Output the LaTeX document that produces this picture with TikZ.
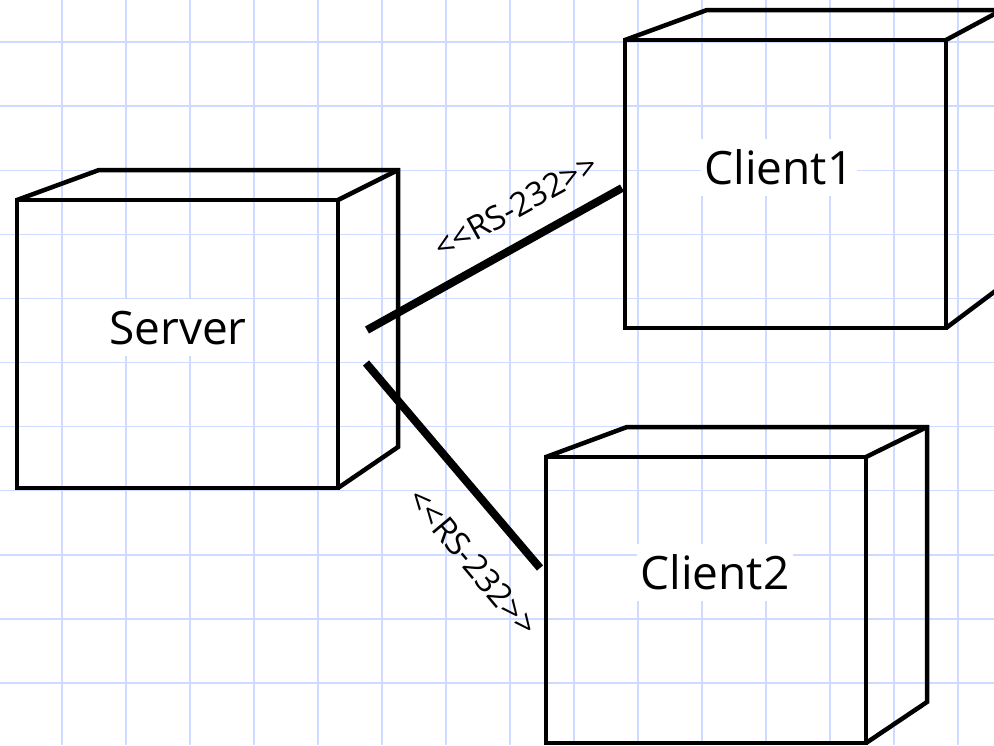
\documentclass[tikz,border=0pt]{standalone}
\usepackage{fontspec}
\setmainfont{Open Sans}
\definecolor{gridblue}{RGB}{206,218,255}
\begin{document}
\begin{tikzpicture}[x=1pt,y=-1pt,
  gridline/.style={gridblue, line width=1.4pt},
  edge/.style={line width=4.5pt, line join=miter, line cap=butt},
  link/.style={line width=8pt},
  boxlabel/.style={fill=white, font=\fontsize{46}{50}\selectfont,
    inner xsep=4pt, inner ysep=11pt, text height=35pt, text depth=0pt},
  linklabel/.style={font=\fontsize{33}{36}\selectfont, inner sep=0pt}
]
\useasboundingbox (0,0) rectangle (994,745);
\fill[white] (0,0) rectangle (994,745);
\begin{scope}
  \clip (0,0) rectangle (994,745);
  % squared paper
  \foreach \i in {0,...,14} \draw[gridline] ({62+64*\i},0) -- ++(0,745);
  \foreach \j in {0,...,10} \draw[gridline] (0,{42+64.1*\j}) -- ++(994,0);

  % Server cube
  \draw[edge] (17,200) rectangle (338,488);
  \draw[edge] (17,200) -- (99,170) -- (398,170) -- (398,447) -- (338,488);
  \draw[edge] (338,200) -- (398,170);

  % Client1 cube
  \draw[edge] (625,40) rectangle (946,328);
  \draw[edge] (625,40) -- (707,10) -- (1002,10) -- (1002,286) -- (946,328);
  \draw[edge] (946,40) -- (1002,10);

  % Client2 cube
  \draw[edge] (546,457) rectangle (866,743);
  \draw[edge] (546,457) -- (627,427) -- (927,427) -- (927,702) -- (866,743);
  \draw[edge] (866,457) -- (927,427);
\end{scope}

% labels
\node[boxlabel] (server) at (178,327) {Server};
\node[boxlabel] (client1) at (779,167) {Client1};
\node[boxlabel] (client2) at (715,572) {Client2};

% links
\coordinate (s1) at (367,330);
\coordinate (c1) at (622,188);
\coordinate (s2) at (366,363);
\coordinate (c2) at (540,568);
\draw[link] (s1) -- (c1);
\draw[link] (s2) -- (c2);

\node[linklabel, rotate=29] (l1) at (516,206) {<{}<RS-232>{}>};
\node[linklabel, rotate=-50] (l2) at (473,562) {<{}<RS-232>{}>};
\end{tikzpicture}
\end{document}
